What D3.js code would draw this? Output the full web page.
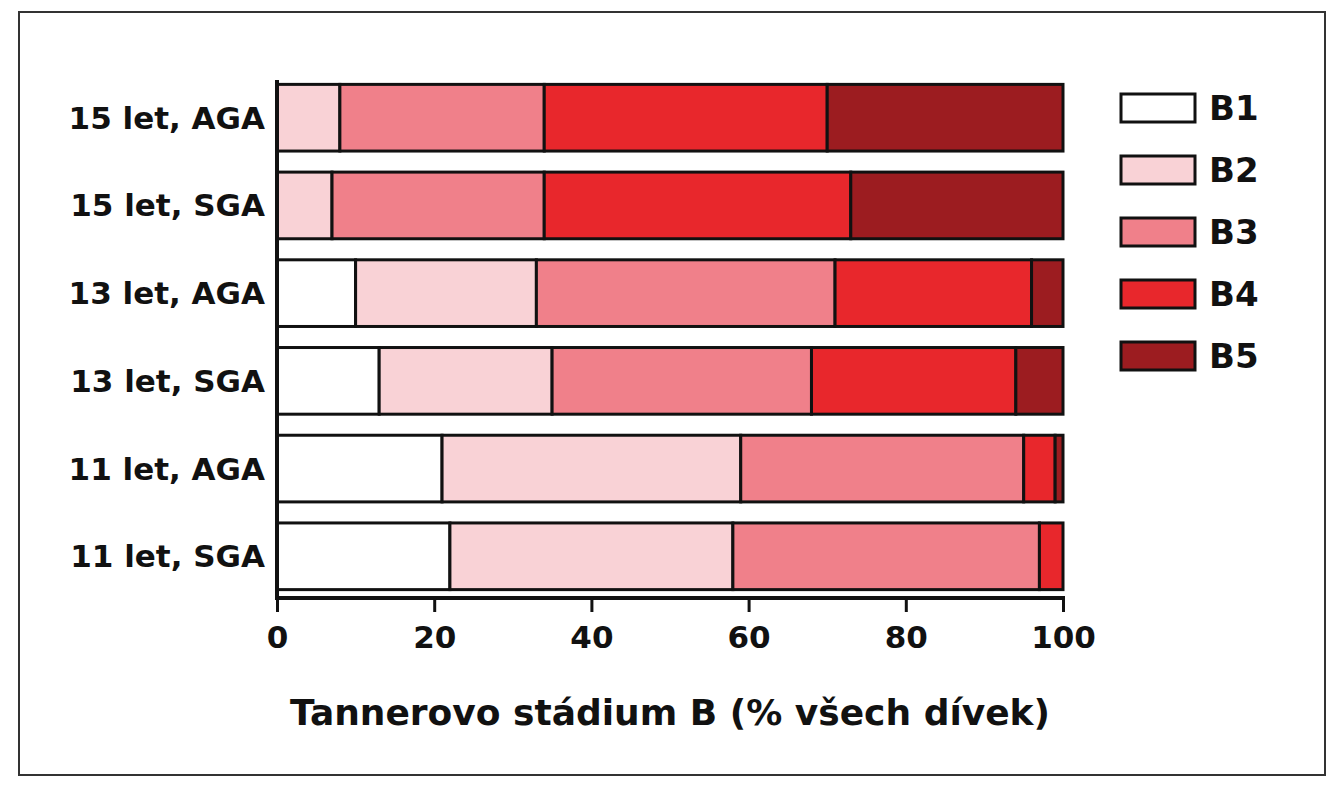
<!DOCTYPE html>
<html>
<head>
<meta charset="utf-8">
<script src="https://cdn.jsdelivr.net/npm/d3@7"></script>
<style>
  body { margin: 0; background: #fff; }
  text { font-family: "DejaVu Sans", Arial, sans-serif; font-weight: bold; }
</style>
</head>
<body>
<svg id="chart" width="1344" height="800"></svg>
<script>
const groups = ['15 let, AGA', '15 let, SGA', '13 let, AGA', '13 let, SGA', '11 let, AGA', '11 let, SGA'];
const stages = ['B1', 'B2', 'B3', 'B4', 'B5'];
const colors = ['#ffffff', '#f9d2d6', '#f0808a', '#e8272c', '#9c1c20'];
// percentage per stage, one array per group
const B1 = [0, 0, 10, 13, 21, 22];
const B2 = [8, 7, 23, 22, 38, 36];
const B3 = [26, 27, 38, 33, 36, 39];
const B4 = [36, 39, 25, 26, 4, 3];
const B5 = [30, 27, 4, 6, 1, 0];
const ticks = [0, 20, 40, 60, 80, 100];

const svg = d3.select('#chart');

// outer frame
svg.append('rect')
  .attr('x', 19).attr('y', 12).attr('width', 1306).attr('height', 763)
  .attr('fill', 'none').attr('stroke', '#333').attr('stroke-width', 2);

const x = d3.scaleLinear().domain([0, 100]).range([277, 1063]);
const y = d3.scaleBand().domain(groups).range([80, 594]).paddingInner(0.24).paddingOuter(0.05);

const rows = groups.map((g, i) => ({ group: g, B1: B1[i], B2: B2[i], B3: B3[i], B4: B4[i], B5: B5[i] }));
const series = d3.stack().keys(stages)(rows);

svg.append('g').selectAll('g')
  .data(series)
  .join('g')
    .attr('fill', (d, i) => colors[i])
  .selectAll('rect')
  .data(d => d)
  .join('rect')
    .attr('x', d => x(d[0]))
    .attr('y', d => y(d.data.group))
    .attr('width', d => x(d[1]) - x(d[0]))
    .attr('height', y.bandwidth())
    .attr('stroke', '#111')
    .attr('stroke-width', 3);

// y labels
svg.append('g').selectAll('text')
  .data(groups)
  .join('text')
    .attr('x', 265)
    .attr('y', d => y(d) + y.bandwidth() / 2)
    .attr('text-anchor', 'end')
    .attr('dominant-baseline', 'central')
    .attr('font-size', 31)
    .attr('fill', '#111')
    .text(d => d);

// axes
svg.append('line').attr('x1', 277).attr('x2', 277).attr('y1', 80).attr('y2', 600)
  .attr('stroke', '#111').attr('stroke-width', 4);
svg.append('line').attr('x1', 275).attr('x2', 1065).attr('y1', 598).attr('y2', 598)
  .attr('stroke', '#111').attr('stroke-width', 4);

const xAxis = svg.append('g').attr('transform', 'translate(0,598)')
  .call(d3.axisBottom(x).tickValues(ticks).tickSize(14).tickFormat(d3.format('d')));
xAxis.select('.domain').remove();
xAxis.selectAll('line').attr('stroke', '#111').attr('stroke-width', 3);
xAxis.selectAll('text').attr('font-size', 31).attr('fill', '#111').attr('dy', '1.05em')
  .attr('font-family', '"DejaVu Sans", Arial, sans-serif').attr('font-weight', 'bold');

svg.append('text')
  .attr('x', 670).attr('y', 725)
  .attr('text-anchor', 'middle')
  .attr('font-size', 36)
  .attr('fill', '#111')
  .text('Tannerovo stádium B (% všech dívek)');

// legend
const legend = svg.append('g').selectAll('g')
  .data(stages)
  .join('g')
    .attr('transform', (d, i) => `translate(1121,${94 + i * 62})`);
legend.append('rect')
  .attr('width', 74).attr('height', 28)
  .attr('fill', (d, i) => colors[i])
  .attr('stroke', '#111').attr('stroke-width', 3);
legend.append('text')
  .attr('x', 88).attr('y', 14)
  .attr('dominant-baseline', 'central')
  .attr('font-size', 34)
  .attr('fill', '#111')
  .text(d => d);
</script>
</body>
</html>
